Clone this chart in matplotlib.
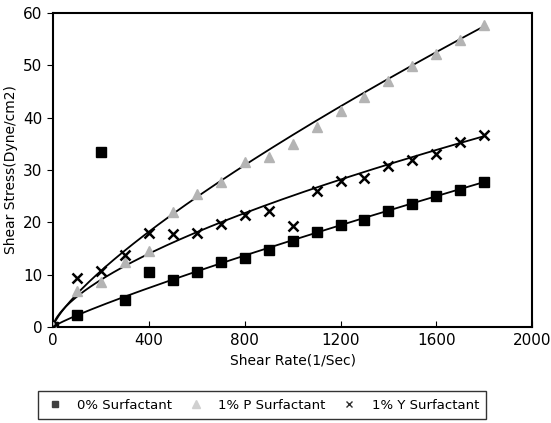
import numpy as np
import matplotlib
matplotlib.use("Agg")
import matplotlib.pyplot as plt
from matplotlib.lines import Line2D

shear_rate = [0, 100, 200, 300, 400, 500, 600, 700, 800, 900, 1000,
              1100, 1200, 1300, 1400, 1500, 1600, 1700, 1800]

stress_0 = [0, 2.3, 33.5, 5.2, 10.5, 9.0, 10.5, 12.4, 13.1, 14.8, 16.5,
            18.2, 19.5, 20.5, 22.2, 23.5, 25.0, 26.2, 27.7]
stress_p = [0, 6.8, 8.6, 12.5, 14.5, 22.0, 25.5, 27.8, 31.5, 32.5, 35.0,
            38.3, 41.3, 44.0, 47.0, 49.8, 52.2, 54.8, 57.8]
stress_y = [0, 9.4, 10.7, 13.8, 18.0, 17.8, 17.9, 19.6, 21.4, 22.2, 19.3,
            26.0, 28.0, 28.5, 30.7, 32.0, 33.1, 35.3, 36.7]

labels = ["0% Surfactant", "1% P Surfactant", "1% Y Surfactant"]

# power law trend lines  y = K * x**n
fit_k = [0.0399, 0.186, 0.308]
fit_n = [0.873, 0.765, 0.637]

fig = plt.figure(figsize=(5.51, 4.23), dpi=100)
ax = fig.add_axes([0.096, 0.227, 0.870, 0.742])

xs = np.linspace(0, max(shear_rate), 300)
for k, n in zip(fit_k, fit_n):
    ax.plot(xs, k * xs ** n, color="black", lw=1.3, zorder=2)

ax.plot(shear_rate, stress_0, ls="none", marker="s", ms=7, color="black",
        zorder=3)
ax.plot(shear_rate, stress_p, ls="none", marker="^", ms=7, color="#b4b4b4",
        zorder=3)
ax.plot(shear_rate, stress_y, ls="none", marker="x", ms=7, mew=1.8,
        color="black", zorder=4)

ax.set_xlim(0, 2000)
ax.set_ylim(0, 60)
ax.set_xticks(range(0, 2001, 400))
ax.set_yticks(range(0, 61, 10))
ax.tick_params(axis="x", direction="in", length=4, labelsize=11, pad=4)
ax.tick_params(axis="y", direction="out", length=4, labelsize=11)
for s in ax.spines.values():
    s.set_linewidth(1.5)

ax.set_xlabel("Shear Rate(1/Sec)", fontsize=10, labelpad=4)
ax.set_ylabel("Shear Stress(Dyne/cm2)", fontsize=10, labelpad=4)

handles = [
    Line2D([], [], ls="none", marker="s", ms=5, color="#404040"),
    Line2D([], [], ls="none", marker="^", ms=6, color="#d0d0d0"),
    Line2D([], [], ls="none", marker="x", ms=5, mew=1.0, color="#303030"),
]
leg = fig.legend(handles, labels, ncol=3, loc="center",
                 bbox_to_anchor=(0.476, 0.042), fontsize=9.5, frameon=True,
                 fancybox=False, edgecolor="black",
                 handlelength=1.4, handletextpad=1.0, columnspacing=1.1,
                 borderpad=0.55)
leg.get_frame().set_linewidth(1.0)

fig.savefig("out.png", dpi=100)
